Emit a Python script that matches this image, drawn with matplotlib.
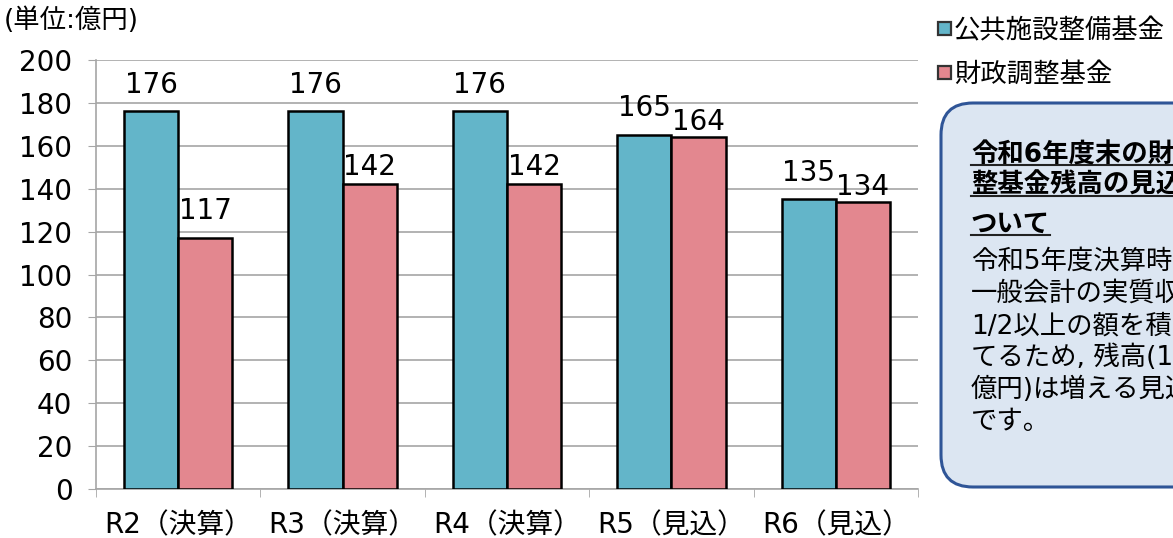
import matplotlib
matplotlib.use("Agg")
import matplotlib.pyplot as plt
from matplotlib.patches import FancyBboxPatch, Rectangle
from matplotlib.lines import Line2D

# wide Latin digits from DejaVu, Japanese from Noto CJK
plt.rcParams['font.family'] = ['DejaVu Sans', 'Noto Sans CJK JP']

# data (億円)
years = ["R2（決算）", "R3（決算）", "R4（決算）", "R5（見込）", "R6（見込）"]
public_fund = [176, 176, 176, 165, 135]
adjust_fund = [117, 142, 142, 164, 134]
series_names = ["公共施設整備基金", "財政調整基金"]

# vertical gap (points) between bar top and label baseline
pub_gap = [13.5, 13.5, 13.5, 13.5, 13.5]
adj_gap = [13.5, 6.5, 6.5, 5, 4.5]

TEAL = "#63b5c9"
PINK = "#e3878f"
GRID = "#a6a6a6"
FS = 20

fig = plt.figure(figsize=(11.73, 5.38), dpi=100)
ax = fig.add_axes([96 / 1173, 49 / 538, 822 / 1173, 429 / 538])

w = 0.33
xs = list(range(len(years)))
b1 = ax.bar([x - w / 2 for x in xs], public_fund, w, color=TEAL,
            edgecolor="black", linewidth=1.8, zorder=3)
b2 = ax.bar([x + w / 2 for x in xs], adjust_fund, w, color=PINK,
            edgecolor="black", linewidth=1.8, zorder=3)

for bars, vals, gaps in [(b1, public_fund, pub_gap), (b2, adjust_fund, adj_gap)]:
    for bar, v, g in zip(bars, vals, gaps):
        ax.annotate(str(v), (bar.get_x() + bar.get_width() / 2, v),
                    xytext=(0, g), textcoords="offset points",
                    ha="center", va="baseline", fontsize=FS)

ax.set_xlim(-0.5, len(years) - 0.5)
ax.set_ylim(0, 200)
ax.set_yticks(range(0, 201, 20))
ax.tick_params(axis="y", labelsize=FS, length=6, color=GRID, pad=11)
ax.set_xticks(xs)
ax.set_xticklabels(years, fontsize=FS)
ax.tick_params(axis="x", length=0, pad=16)
ax.set_xticks([x - 0.5 for x in range(len(years) + 1)], minor=True)
ax.tick_params(axis="x", which="minor", length=6, color=GRID, direction="out")
ax.grid(axis="y", color=GRID, linewidth=1.2, zorder=0)
for s in ["top", "right"]:
    ax.spines[s].set_visible(False)
for s in ["left", "bottom"]:
    ax.spines[s].set_color(GRID)
    ax.spines[s].set_linewidth(1.2)

# overlay in pixel coordinates for unit label, legend and note box
ov = fig.add_axes([0, 0, 1, 1], zorder=5)
ov.set_xlim(0, 1173)
ov.set_ylim(538, 0)
ov.axis("off")

ov.text(4, 28, "(単位:億円)", fontsize=19, va="baseline", ha="left")

for i, (name, col) in enumerate(zip(series_names, [TEAL, PINK])):
    y = 28 + i * 44
    ov.add_patch(Rectangle((938, y - 6), 13, 13, facecolor=col,
                           edgecolor="#333333", linewidth=1.6))
    ov.text(954, y + 10, name, fontsize=19, va="baseline", ha="left")

ov.add_patch(FancyBboxPatch((941, 103), 320, 384,
                            boxstyle="round,pad=0,rounding_size=32",
                            facecolor="#dce6f2", edgecolor="#2f5597", linewidth=2.2))

bold_lines = ["令和6年度末の財政調", "整基金残高の見込みに", "ついて"]
body_lines = ["令和5年度決算時の", "一般会計の実質収支の", "1/2以上の額を積み立",
              "てるため, 残高(164", "億円)は増える見込み", "です。"]
bold_base = [162, 193, 232]
body_base = [269, 301, 333, 365, 397, 429]

fig.canvas.draw()
renderer = fig.canvas.get_renderer()
for line, yb in zip(bold_lines, bold_base):
    t = ov.text(971, yb, line, fontsize=19, fontweight="bold", va="baseline", ha="left")
    bb = t.get_window_extent(renderer)
    # underline the heading
    ov.add_line(Line2D([971, 971 + bb.width], [yb + 3, yb + 3],
                       color="#222222", linewidth=1.5))
for line, yb in zip(body_lines, body_base):
    ov.text(971, yb, line, fontsize=19, va="baseline", ha="left")

fig.savefig("out.png", dpi=100)
